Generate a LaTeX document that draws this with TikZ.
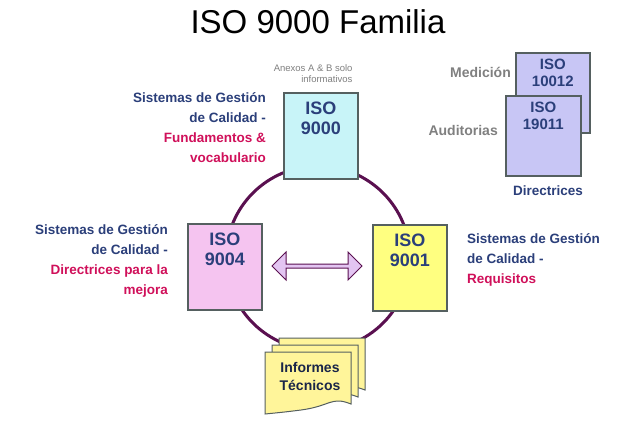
\documentclass[tikz,border=0pt]{standalone}
\usepackage{fontspec}
\setmainfont{Liberation Sans}
\usetikzlibrary{arrows.meta,shapes.arrows}
\definecolor{navy}{HTML}{2B3F7A}
\definecolor{mag}{HTML}{D0105A}
\definecolor{ring}{HTML}{5A1050}
\definecolor{cyanf}{HTML}{C8F4F8}
\definecolor{pinkf}{HTML}{F5C4F0}
\definecolor{yelf}{HTML}{FFFF80}
\definecolor{lavf}{HTML}{C8C6F5}
\definecolor{docf}{HTML}{FFF59A}
\definecolor{edge}{HTML}{556060}
\tikzset{
 isobox/.style={draw=edge,line width=1.6pt,minimum width=74pt,minimum height=86pt,anchor=north west,font=\bfseries\fontsize{18}{20}\selectfont,text=navy,align=center,inner sep=6pt},
 lbl/.style={font=\bfseries\fontsize{13.5}{20}\selectfont,inner sep=0pt},
 grey/.style={font=\bfseries\fontsize{14}{16}\selectfont,text=gray,inner sep=0pt},
 doc/.style={draw=edge,line width=1pt,fill=docf}
}
\begin{document}
\begin{tikzpicture}[x=1pt,y=-1pt]
\useasboundingbox[fill=white] (0,0) rectangle (640,421);
\node (title) at (318,22) {\fontsize{33}{36}\selectfont ISO 9000 Familia};
\node[draw=ring,line width=3pt,circle,minimum size=184pt] (ring) at (318,258) {};
% boxes
\node[isobox,fill=cyanf] (a) at (283,92) {ISO\\9000\\[16pt]};
\node[isobox,fill=pinkf] (b) at (187,223) {ISO\\9004\\[16pt]};
\node[isobox,fill=yelf] (c) at (372,224) {ISO\\9001\\[16pt]};
\node[single arrow,double arrow,draw=ring,line width=1pt,fill=pinkf!60!lavf,minimum width=28pt,double arrow head extend=3pt,minimum height=90pt,inner sep=0pt] (arr) at (317,266) {};
% documents
\foreach \d/\n in {14/d3,7/d2,0/d1}{
 \draw[doc] (265+\d,352-\d) coordinate (\n) -- ++(86,0) -- ++(0,52) .. controls ++(-20,-8) and ++(30,-4) .. ++(-50,6) .. controls ++(-16,2) .. ++(-36,4) -- cycle;
}
\node[font=\bfseries\fontsize{14}{18}\selectfont,text=navy!60!black,align=center] (it) at (310,376) {Informes\\Técnicos};
% right top
\node[isobox,fill=lavf,minimum height=76pt,minimum width=74pt,font=\bfseries\fontsize{15}{17}\selectfont] (e) at (515,52) {ISO\\10012\\[24pt]};
\node[isobox,fill=lavf,minimum height=77pt,minimum width=75pt,font=\bfseries\fontsize{15}{17}\selectfont] (f) at (505,95) {ISO\\19011\\[24pt]};
\node[grey,anchor=east] (med) at (511,72) {Medición};
\node[grey,anchor=east] (aud) at (498,130) {Auditorias};
\node[lbl,text=navy] (dir) at (548,191) {Directrices};
\node[font=\fontsize{9.5}{11}\selectfont,text=gray,align=right,anchor=south east] (anx) at (356,86) {Anexos A \& B solo\\informativos};
% labels
\node[lbl,anchor=north east,align=right] (la) at (266,92) {\textcolor{navy}{Sistemas de Gestión}\\\textcolor{navy}{de Calidad -}\\\textcolor{mag}{Fundamentos \&}\\\textcolor{mag}{vocabulario}};
\node[lbl,anchor=north east,align=right] (lb) at (168,224) {\textcolor{navy}{Sistemas de Gestión}\\\textcolor{navy}{de Calidad -}\\\textcolor{mag}{Directrices para la}\\\textcolor{mag}{mejora}};
\node[lbl,anchor=north west,align=left] (lc) at (467,233) {\textcolor{navy}{Sistemas de Gestión}\\\textcolor{navy}{de Calidad -}\\\textcolor{mag}{Requisitos}};
\end{tikzpicture}
\end{document}
